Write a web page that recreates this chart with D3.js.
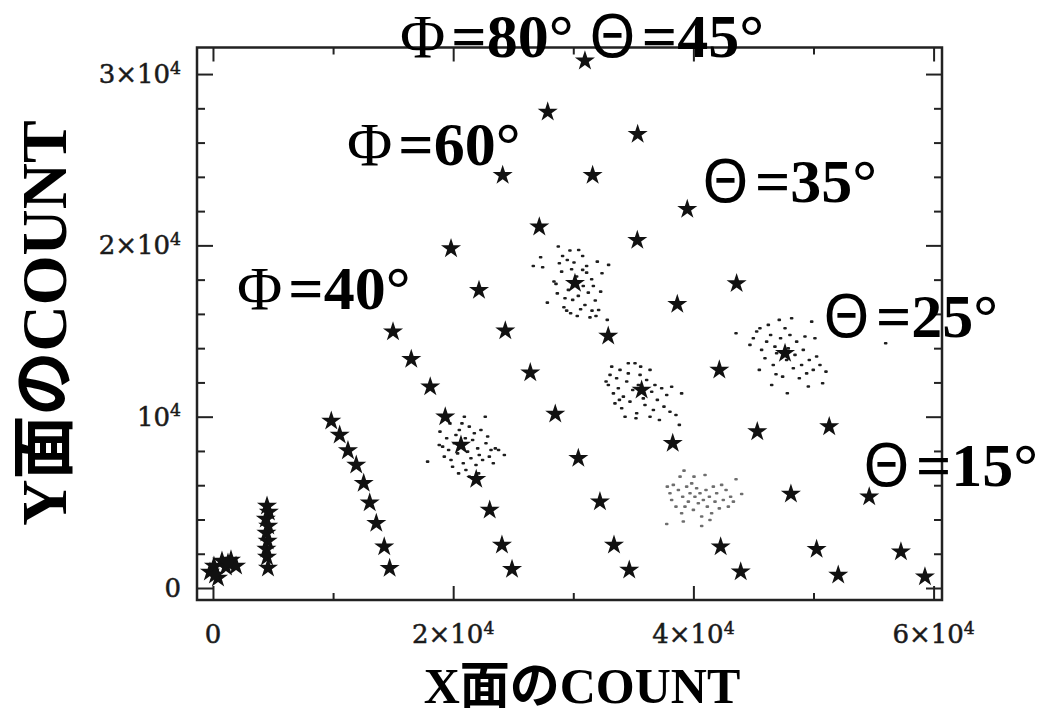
<!DOCTYPE html>
<html>
<head>
<meta charset="utf-8">
<script src="https://cdn.jsdelivr.net/npm/d3@7"></script>
<style>
  body { margin: 0; background: #fff; }
</style>
</head>
<body>
<svg id="chart" width="1048" height="713"></svg>
<script>
// counts: [X面 count, Y面 count]
const gridStars = [
  [30970,30770],[27870,27790],[35360,26490],[24120,24090],[31610,24090],[39490,22110],
  [27170,21080],[35330,20300],[19820,19810],[22150,17380],[43600,17770],[38660,16560],
  [14990,14960],[24340,15020],[32910,14710],[16510,13350],[26420,12570],[42160,12730],
  [18090,11750],[19340,10000],[28500,10160],[45320,9130],[51310,9420],[38280,8450],
  [30420,7570],[21920,6350],[23040,4550],[32220,5040],[48120,5490],[54640,5330],
  [24060,2510],[33390,2510],[42270,2410],[50260,2260],[57280,2120],
  [24900,1090],[34660,1050],[43940,950],[52060,760],[59280,660]
];
const cloudStars = [[30140,17790],[20650,8350],[35690,11560],[47630,13700]];
const phi40Stars = [
  [9850,9750],[10550,8930],[11240,8020],[11930,7180],[12550,6110],
  [13050,4980],[13600,3780],[14260,2410],[14710,1150]
];
const columnStars = [
  [4500,4790],[4650,4440],[4400,4030],[4600,3620],[4450,3210],
  [4550,2740],[4450,2280],[4500,1810],[4580,1170]
];
const originStars = [
  [-250,930],[80,1280],[420,580],[750,1580],[1080,1230],
  [1500,1640],[1920,1280],[170,760],[1250,1460]
];

// scattered single events round four of the stars, and the grey cloud
const cloudA = [
  [26670,18800],[27280,19310],[27450,18720],[27840,16660],[28390,17890],[28750,19930],
  [28840,18960],[29030,18470],[29110,19380],[29310,16910],[29450,16190],[29590,17400],
  [29720,19700],[29860,18610],[30060,19000],[30280,18180],[30420,17050],[30610,16270],
  [30780,19380],[30970,16520],[31110,18410],[31250,17240],[31390,15800],[31530,18020],
  [31670,17630],[31830,16780],[32000,19050],[32110,16230],[32280,17300],[32390,18370],
  [32830,15650],[32940,18860],[28560,17750],[28670,17200],[30830,17630],[30330,15880],
  [29780,16040],[29220,16390],[31110,18800],[31560,16190],[31890,15880],[30450,19730],
  [29500,19150],[30780,18570],[29950,16820]
];
const cloudB = [
  [17870,7380],[18900,9130],[19120,8250],[19260,7670],[19460,8740],[19620,8060],
  [19820,7470],[19950,7080],[20090,8450],[20230,8930],[20370,7860],[20510,9220],
  [20730,9610],[20840,7280],[21010,8740],[21060,6890],[21200,7960],[21340,9420],
  [21480,7570],[21620,8640],[21760,9030],[21900,7180],[22040,8150],[22170,7760],
  [22310,9220],[22450,7470],[22670,10000],[22730,8450],[22870,8840],[23010,7670],
  [23150,8060],[23340,7280],[23510,8150],[23780,8060],[24260,7760],[19730,9610],
  [20450,6690],[21340,6500],[18840,8350],[20930,10000],[22120,6690]
];
const cloudC = [
  [32730,12050],[32920,11850],[33200,12920],[33340,11360],[33470,10780],[33610,12240],
  [33750,11660],[33890,12730],[34030,10490],[34170,11170],[34310,10000],[34450,12050],
  [34580,12530],[34720,10880],[34950,11560],[35140,13120],[35280,10200],[35420,11850],
  [35560,12440],[35610,12920],[35830,11070],[35970,10680],[36110,12140],[36390,12730],
  [36530,11460],[36670,10390],[36800,11850],[37000,10980],[37170,9810],[37360,11660],
  [37550,10590],[37780,11270],[38050,10290],[38190,11750],[38550,10100],[38830,9520],
  [39020,11360],[35220,9910],[36390,10000],[34580,13120],[33060,12440],[33840,10980]
];
const cloudD = [
  [43550,14870],[44710,14190],[44990,14580],[45270,14970],[45490,12730],[45680,13900],
  [45960,13410],[46100,14380],[46240,15360],[46430,14770],[46650,13020],[46790,14090],
  [46930,13700],[47150,15650],[47260,14580],[47430,12340],[47630,15160],[47760,13310],
  [47900,13990],[48040,14770],[48180,15750],[48320,12830],[48460,13610],[48600,14380],
  [48820,12240],[49010,13020],[49150,13900],[49290,14680],[49430,12530],[49650,13310],
  [49850,15550],[49980,12730],[50120,14580],[50260,13510],[50540,13020],[50760,11950],
  [51040,12630],[46520,11850],[47820,11370],[49570,11760],[45540,15160],[46880,12480],
  [56010,14290]
];
const cloudE = [
  [37780,3740],[37830,5920],[38050,5530],[38190,5140],[38330,6020],[38550,4750],
  [38750,5720],[38890,6500],[39020,4360],[39110,5330],[39220,6850],[39300,4750],
  [39440,5920],[39580,5040],[39720,5530],[39860,6110],[40000,4560],[40130,5330],
  [40270,5820],[40410,4950],[40550,5530],[40690,4170],[40830,5140],[40970,6600],
  [41050,5720],[41160,4750],[41330,5330],[41520,4360],[41660,5920],[41800,5040],
  [41940,5530],[42160,4650],[42350,6020],[42490,5140],[42720,5720],[42910,4750],
  [43100,5330],[43330,5040],[43550,6350],[44020,5490],[40690,3620],[39160,3880],
  [40050,6500],[41380,3970]
];

const xMajor = [0, 20000, 40000, 60000];
const xMinor = [10000, 30000, 50000];
const yMajor = [0, 10000, 20000, 30000];
const yMinor = [2000, 4000, 6000, 8000, 12000, 14000, 16000, 18000, 22000, 24000, 26000, 28000];
const xTickLabels = [["0", ""], ["2×10", "4"], ["4×10", "4"], ["6×10", "4"]];
const yTickLabels = [["0", ""], ["10", "4"], ["2×10", "4"], ["3×10", "4"]];

const notes = [
  { text: "Φ=80° Θ=45°", x: 400, y: 57 },
  { text: "Φ=60°", x: 347, y: 165 },
  { text: "Φ=40°", x: 237, y: 309 },
  { text: "Θ=35°", x: 702, y: 202 },
  { text: "Θ=25°", x: 823, y: 337 },
  { text: "Θ=15°", x: 863, y: 486 }
];

const svg = d3.select("#chart");
const plotL = 197, plotR = 942, plotT = 47.5, plotB = 600;
const ink = "#111";

const x = d3.scaleLinear().domain([-1330, 60700]).range([plotL, plotR]);
const y = d3.scaleLinear().domain([-700, 31550]).range([plotB, plotT]);

// frame ticks on all four sides, pointing inward
function ticks(axis, values, size, transform) {
  svg.append("g")
    .attr("transform", transform)
    .call(axis.tickValues(values).tickSize(-size).tickFormat(""))
    .call(g => g.select(".domain").remove())
    .call(g => g.selectAll(".tick line").attr("stroke", "#222").attr("stroke-width", 2));
}
ticks(d3.axisBottom(x), xMajor, 14, `translate(0,${plotB})`);
ticks(d3.axisBottom(x), xMinor, 7, `translate(0,${plotB})`);
ticks(d3.axisTop(x), xMajor, 14, `translate(0,${plotT})`);
ticks(d3.axisTop(x), xMinor, 7, `translate(0,${plotT})`);
ticks(d3.axisLeft(y), yMajor, 16, `translate(${plotL},0)`);
ticks(d3.axisLeft(y), yMinor, 8, `translate(${plotL},0)`);
ticks(d3.axisRight(y), yMajor, 16, `translate(${plotR},0)`);
ticks(d3.axisRight(y), yMinor, 8, `translate(${plotR},0)`);

svg.append("rect")
  .attr("x", plotL).attr("y", plotT)
  .attr("width", plotR - plotL).attr("height", plotB - plotT)
  .attr("fill", "none").attr("stroke", "#222").attr("stroke-width", 2.5);

function tickLabel(sel, lab) {
  sel.text(lab[0]);
  if (lab[1]) sel.append("tspan").attr("dy", "-0.55em").attr("font-size", "0.66em").text(lab[1]);
}
const tickFont = "'DejaVu Serif', 'Liberation Serif', serif";

svg.append("g").selectAll("text")
  .data(xMajor)
  .join("text")
  .attr("x", d => x(d)).attr("y", 643)
  .attr("text-anchor", "middle")
  .attr("font-family", tickFont).attr("font-size", 26).attr("fill", "#1a1a1a")
  .attr("stroke", "#1a1a1a").attr("stroke-width", 0.5)
  .each(function(d, i) { tickLabel(d3.select(this), xTickLabels[i]); });

svg.append("g").selectAll("text")
  .data(yMajor)
  .join("text")
  .attr("x", 181).attr("y", d => y(d) + 9)
  .attr("text-anchor", "end")
  .attr("font-family", tickFont).attr("font-size", 26).attr("fill", "#1a1a1a")
  .attr("stroke", "#1a1a1a").attr("stroke-width", 0.5)
  .each(function(d, i) { tickLabel(d3.select(this), yTickLabels[i]); });

// event clouds, drawn as short dashes like the scanned dots
const clouds = [cloudA, cloudB, cloudC, cloudD];
svg.append("g").selectAll("g")
  .data(clouds)
  .join("g")
  .selectAll("rect")
  .data(d => d)
  .join("rect")
  .attr("x", d => x(d[0]) - 1.8).attr("y", d => y(d[1]) - 1.3)
  .attr("width", 3.6).attr("height", 2.6).attr("rx", 1)
  .attr("fill", "#1e1e1e");

svg.append("g").selectAll("rect")
  .data(cloudE)
  .join("rect")
  .attr("x", d => x(d[0]) - 1.8).attr("y", d => y(d[1]) - 1.3)
  .attr("width", 3.6).attr("height", 2.6).attr("rx", 1)
  .attr("fill", "#6e6e6e");

// stars
const star = d3.symbol(d3.symbolStar, 125);
const allStars = [].concat(gridStars, cloudStars, phi40Stars, columnStars, originStars);
svg.append("g").selectAll("path")
  .data(allStars)
  .join("path")
  .attr("transform", d => `translate(${x(d[0])},${y(d[1])})`)
  .attr("d", star)
  .attr("fill", ink);

// axis titles
const titleFont = "'Liberation Serif', 'Noto Sans CJK JP', serif";
svg.append("text")
  .attr("x", 582).attr("y", 703)
  .attr("text-anchor", "middle")
  .attr("font-family", titleFont).attr("font-weight", "bold").attr("font-size", 50)
  .text("X面のCOUNT");

svg.append("text")
  .attr("transform", "translate(66,323) rotate(-90)")
  .attr("text-anchor", "middle")
  .attr("font-family", titleFont).attr("font-weight", "bold").attr("font-size", 64)
  .text("Y面のCOUNT");

// angle notes: greek letters upright, the rest bold
notes.forEach(n => {
  const t = svg.append("text")
    .attr("x", n.x).attr("y", n.y)
    .attr("font-family", "'Liberation Serif', serif").attr("font-size", 62);
  n.text.split(/([ΦΘ])/).filter(s => s).forEach(part => {
    const greek = /[ΦΘ]/.test(part);
    const s = t.append("tspan")
      .attr("font-weight", greek ? "normal" : "bold")
      .attr("dx", greek ? 0 : 6)
      .text(part);
    if (part === "Θ") s.attr("font-family", "'Noto Sans', sans-serif").attr("font-size", 60);
  });
});
</script>
</body>
</html>
